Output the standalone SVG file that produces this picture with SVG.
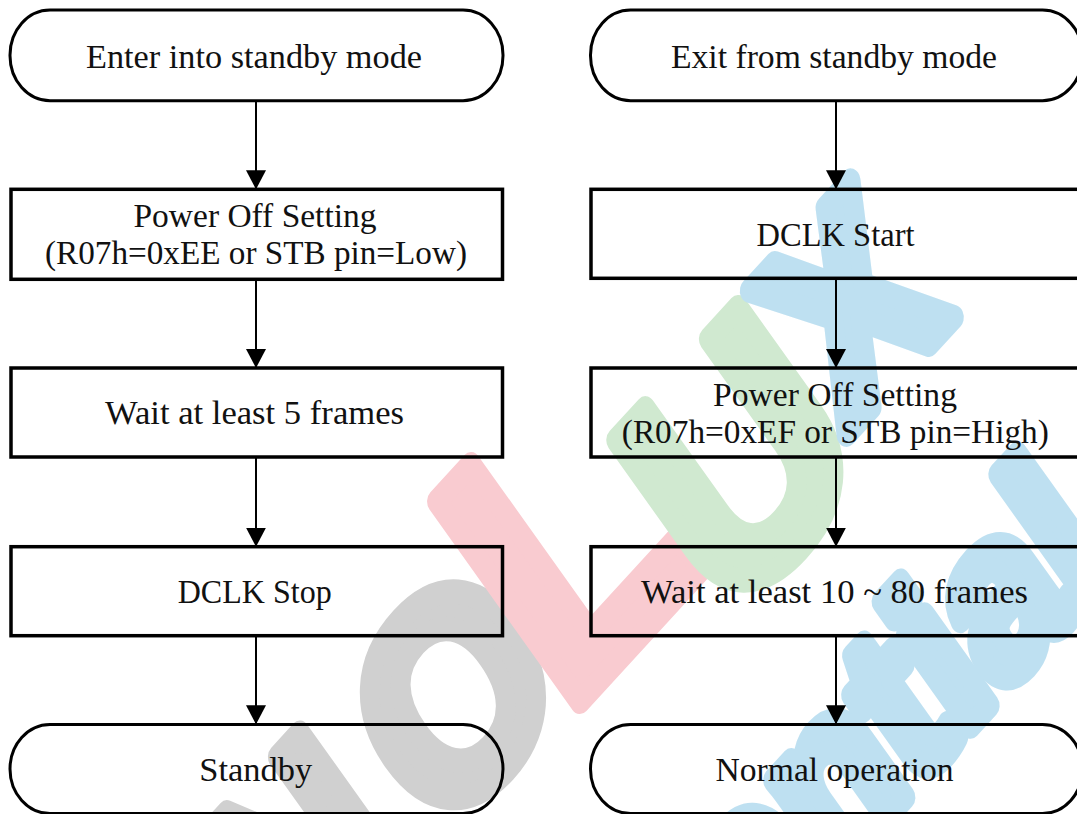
<svg xmlns="http://www.w3.org/2000/svg" width="1077" height="814" viewBox="0 0 1077 814">
<defs>
<style>
.box{fill:none;stroke:#000;stroke-width:3.5}
.pill{fill:none;stroke:#000;stroke-width:3}
.t{font-family:"Liberation Serif","Times New Roman",serif;font-size:34px;fill:#111;text-anchor:middle}
.c{fill:none;stroke:#000;stroke-width:2}
.wm{font-family:"Liberation Sans",Arial,sans-serif;font-weight:bold;stroke-linejoin:round;stroke-width:22}
.gray{fill:#d0d0d0;stroke:#d0d0d0}
.red{fill:#f9cbd0;stroke:#f9cbd0}
.green{fill:#d0e9d0;stroke:#d0e9d0}
.blue{fill:#bee0f1;stroke:#bee0f1}
</style>
<marker id="arr" viewBox="0 0 19 20" refX="19" refY="10" markerWidth="19" markerHeight="20" markerUnits="userSpaceOnUse" orient="auto">
<path d="M0,0 L19,10 L0,20 Z" fill="#000"/>
</marker>
</defs>
<rect width="1077" height="814" fill="#fff"/>
<g id="watermark">
<text class="wm gray" font-size="255" letter-spacing="34" transform="translate(73,1240) rotate(-47.5) skewX(-12)">INNO</text>
<text class="wm red" font-size="350" text-anchor="middle" transform="translate(636.3,640.3) rotate(-47.5) skewX(-12)">L</text>
<text class="wm green" font-size="300" text-anchor="middle" transform="translate(799.7,545.4) rotate(-47.5) skewX(-12)">U</text>
<text class="wm blue" font-size="245" text-anchor="middle" transform="translate(900.3,376.1) rotate(-47.5) skewX(-12)">X</text>
<text class="wm blue" font-size="207" stroke-width="14" transform="translate(308.4,1449.2) rotate(-47.5) skewX(-12)">Confidential</text>
</g>
<g id="connectors">
<path class="c" d="M256,100.7 V189.3" marker-end="url(#arr)"/>
<path class="c" d="M256,279.3 V368" marker-end="url(#arr)"/>
<path class="c" d="M256,457 V546.7" marker-end="url(#arr)"/>
<path class="c" d="M256,635.7 V724.3" marker-end="url(#arr)"/>
<path class="c" d="M836,100.7 V189.3" marker-end="url(#arr)"/>
<path class="c" d="M836,278.3 V368" marker-end="url(#arr)"/>
<path class="c" d="M836,457 V546.7" marker-end="url(#arr)"/>
<path class="c" d="M836,635.7 V724.3" marker-end="url(#arr)"/>
</g>
<g id="enter">
<rect class="pill" x="10" y="10" width="493" height="90.7" rx="40" ry="45"/>
<text class="t" x="254" y="67.7" textLength="336" lengthAdjust="spacingAndGlyphs">Enter into standby mode</text>
</g>
<g id="power-off-low">
<rect class="box" x="11" y="189.3" width="491.5" height="90"/>
<text class="t" x="255" y="227.3" textLength="243" lengthAdjust="spacingAndGlyphs">Power Off Setting</text>
<text class="t" x="256" y="264.3" textLength="422" lengthAdjust="spacingAndGlyphs">(R07h=0xEE or STB pin=Low)</text>
</g>
<g id="wait5">
<rect class="box" x="11" y="368" width="491.5" height="89"/>
<text class="t" x="254.5" y="424" textLength="299" lengthAdjust="spacingAndGlyphs">Wait at least 5 frames</text>
</g>
<g id="dclk-stop">
<rect class="box" x="11" y="546.7" width="491.5" height="89"/>
<text class="t" x="254.7" y="602.7" textLength="154" lengthAdjust="spacingAndGlyphs">DCLK Stop</text>
</g>
<g id="standby">
<rect class="pill" x="10" y="724.5" width="493" height="89" rx="40" ry="44.5"/>
<text class="t" x="255.8" y="780.7" textLength="113" lengthAdjust="spacingAndGlyphs">Standby</text>
</g>
<g id="exit">
<rect class="pill" x="590.5" y="10" width="492" height="90.7" rx="40" ry="45"/>
<text class="t" x="834" y="67.7" textLength="326" lengthAdjust="spacingAndGlyphs">Exit from standby mode</text>
</g>
<g id="dclk-start">
<rect class="box" x="591" y="189.3" width="491" height="89"/>
<text class="t" x="835.5" y="246" textLength="158" lengthAdjust="spacingAndGlyphs">DCLK Start</text>
</g>
<g id="power-off-high">
<rect class="box" x="591" y="368" width="491" height="89"/>
<text class="t" x="835" y="405.5" textLength="244" lengthAdjust="spacingAndGlyphs">Power Off Setting</text>
<text class="t" x="835.3" y="442.5" textLength="427" lengthAdjust="spacingAndGlyphs">(R07h=0xEF or STB pin=High)</text>
</g>
<g id="wait10">
<rect class="box" x="591" y="546.7" width="491" height="89"/>
<text class="t" x="834.5" y="602.7" textLength="387" lengthAdjust="spacingAndGlyphs">Wait at least 10 ~ 80 frames</text>
</g>
<g id="normal">
<rect class="pill" x="590.5" y="724.5" width="492" height="89" rx="40" ry="44.5"/>
<text class="t" x="834.5" y="780.7" textLength="238" lengthAdjust="spacingAndGlyphs">Normal operation</text>
</g>
</svg>
